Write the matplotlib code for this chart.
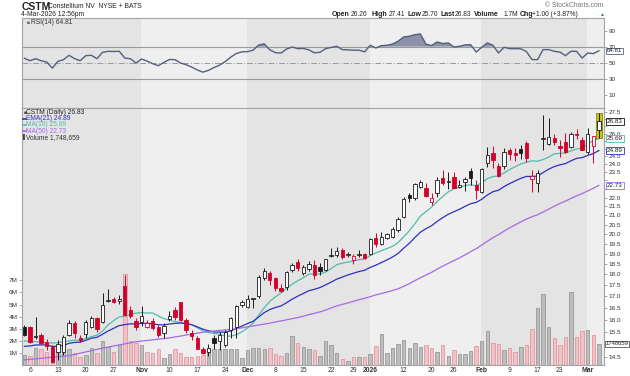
import numpy as np
import pandas as pd
import matplotlib
matplotlib.use("Agg")
import matplotlib.pyplot as plt
from matplotlib.lines import Line2D
from matplotlib.patches import Rectangle
from matplotlib.transforms import blended_transform_factory
from matplotlib.ticker import FixedLocator, FixedFormatter, NullLocator

plt.rcParams['font.family'] = ['Liberation Sans', 'DejaVu Sans']

# ---- CSTM daily, 3-Oct-2025 .. 4-Mar-2026 ----
holidays = ['2025-11-27', '2025-12-25', '2026-01-01', '2026-01-19', '2026-02-16']

opens = [15.69, 15.68, 15.28, 15.36, 15.08, 14.90, 14.70, 14.70, 15.36, 15.87,
         15.25, 15.39, 15.70, 16.06, 15.91, 16.80, 16.86, 16.78, 17.46, 16.40,
         15.94, 15.89, 15.70, 15.94, 15.70, 15.46, 16.02, 16.40, 16.73, 15.98,
         15.46, 15.26, 14.80, 14.70, 15.23, 15.13, 14.96, 15.57, 15.70, 16.61,
         16.53, 16.86, 17.00, 17.82, 18.05, 17.82, 17.38, 17.40, 18.21, 18.61,
         18.05, 18.24, 18.45, 18.34, 18.21, 18.90, 18.93, 19.18, 18.95, 18.69,
         18.92, 18.98, 18.98, 19.82, 19.51, 19.77, 19.83, 20.21, 20.92, 22.15,
         22.00, 22.60, 22.54, 21.73, 22.25, 23.17, 22.90, 23.23, 22.59, 22.89,
         23.58, 22.73, 22.31, 24.06, 24.69, 23.90, 23.87, 24.90, 24.69, 25.00,
         25.38, 23.10, 22.83, 25.62, 25.28, 25.67, 25.18, 25.45, 25.12, 26.00,
         25.56, 24.80, 25.15, 26.26]
highs = [15.78, 15.75, 16.12, 15.46, 15.20, 14.96, 15.16, 15.36, 16.00, 15.95,
         15.36, 15.98, 16.15, 16.12, 17.13, 17.31, 16.98, 17.05, 17.98, 16.57,
         16.05, 16.57, 15.98, 16.05, 15.77, 15.84, 16.37, 16.52, 16.75, 16.05,
         15.57, 15.32, 14.90, 15.03, 15.36, 15.50, 15.57, 16.12, 16.61, 16.83,
         17.05, 16.93, 17.98, 18.29, 18.18, 17.90, 17.56, 18.18, 18.53, 18.72,
         18.45, 18.66, 18.69, 18.53, 18.75, 19.26, 19.35, 19.26, 19.10, 18.98,
         19.18, 19.05, 19.78, 20.03, 20.12, 20.07, 20.38, 20.92, 22.01, 22.29,
         22.83, 23.03, 22.83, 22.25, 23.19, 23.64, 23.54, 23.54, 23.03, 23.23,
         23.78, 23.03, 23.74, 25.12, 25.18, 24.05, 25.03, 25.03, 25.03, 25.20,
         25.50, 23.64, 23.64, 27.29, 27.05, 25.94, 25.56, 26.01, 26.08, 26.28,
         25.79, 26.35, 25.85, 27.41]
lows = [15.32, 15.05, 15.22, 15.00, 14.77, 14.30, 14.39, 14.58, 15.32, 15.23,
        15.09, 15.23, 15.64, 15.50, 15.87, 16.75, 16.70, 16.68, 16.15, 16.05,
        15.57, 15.73, 15.64, 15.57, 15.30, 15.23, 15.95, 15.98, 15.95, 15.43,
        15.16, 14.80, 14.64, 14.54, 14.80, 14.77, 14.90, 15.25, 15.25, 16.53,
        16.48, 16.47, 16.92, 17.74, 17.51, 17.25, 17.20, 17.28, 18.13, 18.18,
        17.98, 18.18, 17.77, 17.98, 18.18, 18.85, 18.85, 18.72, 18.82, 18.50,
        18.82, 18.72, 18.93, 19.35, 19.43, 19.72, 19.78, 20.12, 20.83, 21.76,
        21.86, 22.54, 22.02, 21.57, 22.05, 22.73, 22.48, 22.54, 22.54, 22.38,
        22.73, 21.92, 22.25, 23.85, 23.78, 23.23, 23.70, 24.26, 24.20, 24.30,
        24.16, 22.30, 22.30, 24.90, 25.23, 25.20, 24.47, 24.69, 25.03, 25.60,
        24.90, 24.65, 24.10, 25.70]
closes = [15.36, 15.09, 15.32, 15.05, 14.93, 14.33, 15.00, 15.28, 15.86, 15.43,
          15.16, 15.91, 16.06, 15.61, 16.64, 16.85, 16.73, 16.86, 16.19, 16.15,
          15.68, 16.16, 15.87, 15.64, 15.36, 15.74, 16.16, 16.12, 15.98, 15.57,
          15.33, 14.83, 14.67, 14.87, 15.05, 15.36, 15.50, 16.05, 16.57, 16.75,
          16.86, 16.88, 17.88, 18.17, 17.74, 17.36, 17.25, 18.13, 18.45, 18.29,
          18.34, 18.48, 17.98, 18.18, 18.72, 18.93, 19.15, 18.82, 18.98, 18.88,
          18.93, 18.77, 19.72, 19.48, 19.85, 19.98, 20.25, 20.78, 21.92, 21.95,
          22.77, 22.93, 22.11, 21.99, 23.03, 22.87, 22.93, 22.57, 22.73, 23.09,
          23.17, 22.44, 23.70, 24.58, 24.26, 23.29, 24.75, 24.62, 24.58, 24.69,
          24.37, 23.27, 23.43, 25.67, 25.76, 25.45, 25.05, 24.80, 26.00, 25.90,
          24.90, 26.00, 25.83, 26.83]
volume_m = [0.83, 0.75, 1.40, 1.30, 1.10, 1.33, 1.10, 1.70, 1.36, 1.00,
            0.70, 0.80, 1.40, 1.00, 2.00, 1.45, 1.10, 1.67, 7.50, 1.95,
            1.80, 1.67, 1.10, 0.97, 1.30, 0.55, 0.90, 1.30, 1.00, 0.65,
            0.65, 0.75, 0.80, 1.33, 1.36, 1.36, 1.36, 1.30, 1.36, 0.55,
            1.25, 1.40, 1.40, 1.36, 1.42, 0.92, 0.75, 1.03, 2.40, 1.80,
            1.47, 1.30, 1.25, 0.75, 2.00, 1.67, 1.03, 0.47, 0.36, 0.64,
            0.64, 0.64, 0.92, 1.58, 2.58, 0.97, 1.40, 1.75, 2.08, 1.40,
            1.85, 1.47, 1.67, 1.39, 1.06, 1.67, 0.78, 1.25, 0.94, 0.94,
            1.17, 1.58, 2.00, 2.83, 1.80, 1.72, 1.25, 1.39, 1.08, 1.47,
            1.67, 3.00, 4.72, 5.90, 3.14, 2.22, 1.67, 2.28, 6.05, 2.30,
            2.83, 2.86, 2.50, 1.748659]
rsi14 = [55.5, 52.5, 55.0, 52.5, 50.8, 43.3, 51.7, 53.8, 59.2, 55.0,
         52.5, 58.8, 59.2, 55.0, 62.9, 64.2, 64.0, 64.2, 55.8, 55.0,
         49.6, 54.6, 52.0, 48.8, 46.3, 50.4, 54.0, 53.8, 49.6, 47.5,
         44.5, 41.0, 38.3, 40.5, 44.0, 47.0, 51.4, 57.0, 61.5, 63.5,
         63.8, 65.6, 72.0, 73.5, 66.0, 62.5, 62.0, 67.0, 69.5, 67.5,
         67.7, 66.0, 62.3, 63.0, 67.5, 69.0, 70.4, 66.3, 66.0, 65.6,
         65.6, 63.5, 71.7, 68.3, 71.2, 71.7, 73.2, 76.7, 82.0, 82.9,
         84.8, 85.8, 73.0, 71.3, 75.8, 73.8, 74.6, 69.6, 70.4, 72.1,
         72.5, 63.3, 69.2, 74.6, 71.7, 62.1, 69.2, 67.5, 67.5, 67.3,
         64.0, 54.0, 53.8, 66.3, 66.3, 64.2, 63.3, 58.8, 64.2, 64.2,
         55.8, 62.1, 61.3, 64.81]

# indicator warm-up values (before enough history exists)
ma10_head = [15.13, 15.11, 15.10, 15.08, 15.06, 15.05, 15.06, 15.10, 15.13]
ema21_start = 14.92
ma50_head_days = [0, 8, 14, 20, 26, 32, 38, 44]
ma50_head_vals = [14.40, 14.56, 14.85, 15.10, 15.25, 15.48, 15.62, 15.85]

tick_dates = ['2025-10-06', '2025-10-13', '2025-10-20', '2025-10-27', '2025-11-03',
              '2025-11-10', '2025-11-17', '2025-11-24', '2025-12-01', '2025-12-08',
              '2025-12-15', '2025-12-22', '2025-12-29', '2026-01-02', '2026-01-12',
              '2026-01-20', '2026-01-26', '2026-02-02', '2026-02-09', '2026-02-17',
              '2026-02-23', '2026-03-02']
tick_labels = ['6', '13', '20', '27', 'Nov', '10', '17', '24', 'Dec', '8', '15', '22',
               '29', '2026', '12', '20', '26', 'Feb', '9', '17', '23', 'Mar']

# ---- derived series ----
dates = pd.bdate_range('2025-10-03', '2026-03-04')
dates = dates[~dates.isin(pd.to_datetime(holidays))]
n = len(dates)
x = np.arange(n)
o = np.array(opens); h = np.array(highs); l = np.array(lows); c = np.array(closes)
vol = np.array(volume_m) * 1e6

ma10 = pd.Series(c).rolling(10).mean().to_numpy()
ma10[:9] = ma10_head
ema21 = np.empty(n)
ema21[0] = ema21_start
a = 2.0 / 22
for t in range(1, n):
    ema21[t] = ema21[t - 1] + a * (c[t] - ema21[t - 1])
ma50_full = pd.Series(c).rolling(50).mean().to_numpy()
ma50_x = np.concatenate([ma50_head_days, x[49:]])
ma50_y = np.concatenate([ma50_head_vals, ma50_full[49:]])

prev = np.concatenate([[c[0] - 0.01], c[:-1]])
up_day = c >= prev

RED = '#d4002c'
BLK = '#1a1a1a'
EMA_C = '#2f2fc0'
MA10_C = '#4fbcaa'
MA50_C = '#a46ae6'
DARK_BAND = '#e4e4e4'
LIGHT_BAND = '#efefef'
SPINE = '#a3a3a3'

# ---- figure / axes in pixel layout ----
FW, FH = 630, 376
fig = plt.figure(figsize=(FW / 100, FH / 100), dpi=100)
fig.patch.set_facecolor('white')


def box(x0, y0, x1, y1):
    return [x0 / FW, 1 - y1 / FH, (x1 - x0) / FW, (y1 - y0) / FH]


ax_r = fig.add_axes(box(21.7, 18, 603.5, 108))
ax_v = fig.add_axes(box(21.7, 108, 603.5, 365))
ax_p = fig.add_axes(box(21.7, 108, 603.5, 365), sharex=ax_v)
ax_p.patch.set_visible(False)

x_lo, x_hi = -0.49, 103.83
for ax in (ax_r, ax_v):
    ax.set_xlim(x_lo, x_hi)
    ax.set_facecolor(LIGHT_BAND)
    for s in ax.spines.values():
        s.set_color(SPINE)
        s.set_linewidth(0.8)
for s in ax_p.spines.values():
    s.set_visible(False)

# month shading
month_start = [0] + [i for i in range(1, n) if dates[i].month != dates[i - 1].month] + [n]
for k in range(len(month_start) - 1):
    a0 = month_start[k] - 0.1 if k > 0 else x_lo
    a1 = month_start[k + 1] - 0.1 if k + 1 < len(month_start) - 1 else x_hi
    col = DARK_BAND if dates[month_start[k]].month % 2 == 0 else LIGHT_BAND
    for ax in (ax_r, ax_v):
        ax.axvspan(a0, a1, color=col, lw=0, zorder=0)

# ---- RSI panel ----
ax_r.set_ylim(-6.3, 105.6)
ax_r.axhline(70, color='#9a9a9a', lw=0.8, zorder=1)
ax_r.axhline(30, color='#9a9a9a', lw=0.8, zorder=1)
ax_r.axhline(50, color='#9a9a9a', lw=0.7, ls=(0, (6, 2, 1, 2)), zorder=1)
rsi = np.array(rsi14)
ax_r.fill_between(x, rsi, 70, where=rsi > 70, interpolate=True, color='#8a91a8', lw=0, zorder=2)
ax_r.plot(x, rsi, color='#535f7c', lw=1.0, zorder=3)
ax_r.set_xticks([])
ax_r.yaxis.tick_right()
ax_r.set_yticks([10, 30, 50, 70, 90])
ax_r.tick_params(axis='y', length=2, width=0.5, color='#888', pad=1.5, labelsize=4.6, labelcolor='#333')
ax_r.text(0.008, 0.955, '\u25a0', transform=ax_r.transAxes, fontsize=3.5, color='#56627e', va='center')
ax_r.text(0.016, 0.955, 'RSI(14) 64.81', transform=ax_r.transAxes, fontsize=4.8, color='#333', va='center')
tr_r = blended_transform_factory(ax_r.transAxes, ax_r.transData)
ax_r.text(1.006, rsi[-1], '64.81', transform=tr_r, fontsize=4.4, va='center', color='#222', clip_on=False,
          bbox=dict(boxstyle='square,pad=0.12', fc='white', ec='#56627e', lw=0.6), zorder=6)

# ---- volume (behind price) ----
vcol = np.where(up_day, '#bdbdbd', '#f2c2c8')
vedge = np.where(up_day, '#8e8e8e', '#de8d99')
ax_v.bar(x, vol, width=0.62, color=vcol, edgecolor=vedge, linewidth=0.5, zorder=2)
ax_v.set_ylim(0, 21.24e6)
ax_v.set_yticks([1e6, 2e6, 3e6, 4e6, 5e6, 6e6, 7e6])
ax_v.set_yticklabels(['1M', '2M', '3M', '4M', '5M', '6M', '7M'])
ax_v.tick_params(axis='y', length=2, width=0.5, color='#888', pad=1, labelsize=4.6, labelcolor='#333')
tick_idx = [dates.get_loc(pd.Timestamp(d)) for d in tick_dates]
ax_v.set_xticks(tick_idx)
ax_v.set_xticklabels(tick_labels)
ax_v.tick_params(axis='x', length=0, pad=1.2, labelsize=4.9, labelcolor='#333')
for lab in ax_v.get_xticklabels():
    if not lab.get_text().isdigit() or lab.get_text() == '2026':
        lab.set_fontweight('bold')
tr_v = blended_transform_factory(ax_v.transAxes, ax_v.transData)
ax_v.text(1.004, vol[-1], '1748659', transform=tr_v, fontsize=4.2, va='center', color='#222', clip_on=False,
          bbox=dict(boxstyle='square,pad=0.12', fc='white', ec='#555', lw=0.6))

# ---- price panel (log scale) ----
ax_p.set_yscale('log')
p_lo, p_hi = 14.21, 27.79
ax_p.set_ylim(p_lo, p_hi)
ax_p.tick_params(axis='x', which='both', bottom=False, labelbottom=False)
ax_p.yaxis.tick_right()

# value boxes on the right edge (the labels they cover are left blank)
boxes = [(c[-1], '26.83', '#111'), (ma10[-1], '25.69', MA10_C),
         (ema21[-1], '24.89', EMA_C), (ma50_y[-1], '22.73', MA50_C)]
span = np.log(p_hi / p_lo)
def price_px(p):
    return 365 - 257 * np.log(p / p_lo) / span
box_px = [price_px(b[0]) for b in boxes] + [365 - 257 * vol[-1] / 21.24e6]

pticks = [14.5 + 0.5 * k for k in range(27)]
plabels = []
for p in pticks:
    hidden = any(abs(price_px(p) - bp) < 5.0 for bp in box_px)
    plabels.append('' if hidden else '%.1f' % p)
ax_p.yaxis.set_major_locator(FixedLocator(pticks))
ax_p.yaxis.set_major_formatter(FixedFormatter(plabels))
ax_p.yaxis.set_minor_locator(NullLocator())
ax_p.tick_params(axis='y', which='major', length=2, width=0.5, color='#888', pad=1.5,
                 labelsize=4.6, labelcolor='#333')

# highlight on the latest bar
ax_p.add_patch(Rectangle((x[-1] - 0.55, l[-1]), 1.1, h[-1] - l[-1], facecolor='#c8c21a',
                         edgecolor='#8c8700', lw=0.6, zorder=1.5))

ax_p.plot(x, ma10, color=MA10_C, lw=0.9, zorder=2)
ax_p.plot(x, ema21, color=EMA_C, lw=0.9, zorder=2)
ax_p.plot(ma50_x, ma50_y, color=MA50_C, lw=0.9, zorder=2)

ccol = np.where(up_day, BLK, RED)
ax_p.vlines(x, l, h, colors=ccol, lw=0.7, zorder=3)
hollow = c > o
bot = np.minimum(o, c)
hgt = np.maximum(np.abs(c - o), bot * 0.003)
face = np.where(hollow, 'white', ccol)
ax_p.bar(x, hgt, bottom=bot, width=0.6, color=face, edgecolor=ccol, linewidth=0.6, zorder=4)

tr_p = blended_transform_factory(ax_p.transAxes, ax_p.transData)
for val, txt, ec in boxes:
    ax_p.text(1.006, val, txt, transform=tr_p, fontsize=4.6, va='center', color='#222', clip_on=False,
              bbox=dict(boxstyle='square,pad=0.15', fc='white', ec=ec, lw=0.6), zorder=6)

# legend block, top-left of price panel
def px_to_ax(xp, yp):
    return (xp - 21.7) / 581.8, (365 - yp) / 257.0


legend = [('CSTM (Daily) 26.83', '#222', None), ('EMA(21) 24.89', EMA_C, EMA_C),
          ('MA(10) 25.69', MA10_C, MA10_C), ('MA(50) 22.73', MA50_C, MA50_C),
          ('Volume 1,748,659', '#333', None)]
for k, (txt, tc, lc) in enumerate(legend):
    yy = 112.5 + 6.2 * k
    xa, ya = px_to_ax(26.5, yy)
    ax_p.text(xa, ya, txt, transform=ax_p.transAxes, fontsize=4.8, color=tc, va='center', zorder=6)
    if lc is not None:
        x0, _ = px_to_ax(23, yy)
        x1, _ = px_to_ax(26, yy)
        ax_p.add_line(Line2D([x0, x1], [ya, ya], transform=ax_p.transAxes, color=lc, lw=1.2, zorder=6))
    else:
        x0, _ = px_to_ax(23.2, yy)
        ax_p.text(x0, ya, '\u258c' if k == 4 else '\u25a0', transform=ax_p.transAxes, fontsize=3.8,
                  color='#444', va='center', zorder=6)

# ---- header ----
def fpx(xp, yp):
    return xp / FW, 1 - yp / FH


fig.text(*fpx(21.5, 6.5), 'CSTM', fontsize=7.5, fontweight='bold', color='#222', va='center')
fig.text(*fpx(47.5, 6.8), 'Constellium NV  NYSE + BATS', fontsize=4.9, color='#222', va='center')
fig.text(*fpx(21.5, 14.3), '4-Mar-2026 12:56pm', fontsize=4.9, color='#222', va='center')
fig.text(*fpx(603.5, 5.5), '\u00a9 StockCharts.com', fontsize=4.9, color='#777', va='center', ha='right')
header = [(331.5, 'Open', True), (351, '26.26', False), (371.5, 'High', True), (388.3, '27.41', False),
          (407.3, 'Low', True), (421.7, '25.70', False), (440.7, 'Last', True), (455, '26.83', False),
          (474.3, 'Volume', True), (503.3, '1.7M', False), (519.3, 'Chg', True),
          (531.7, '+1.00 (+3.87%)', False)]
for xp, txt, bold in header:
    fig.text(*fpx(xp, 14.3), txt, fontsize=5.0 if bold else 4.8, color='#222', va='center',
             fontweight='bold' if bold else 'normal')
fig.text(*fpx(599.5, 14.5), '\u25b2', fontsize=3.6, color='#2a9a2a', va='center')

fig.savefig('out.png', dpi=100)
